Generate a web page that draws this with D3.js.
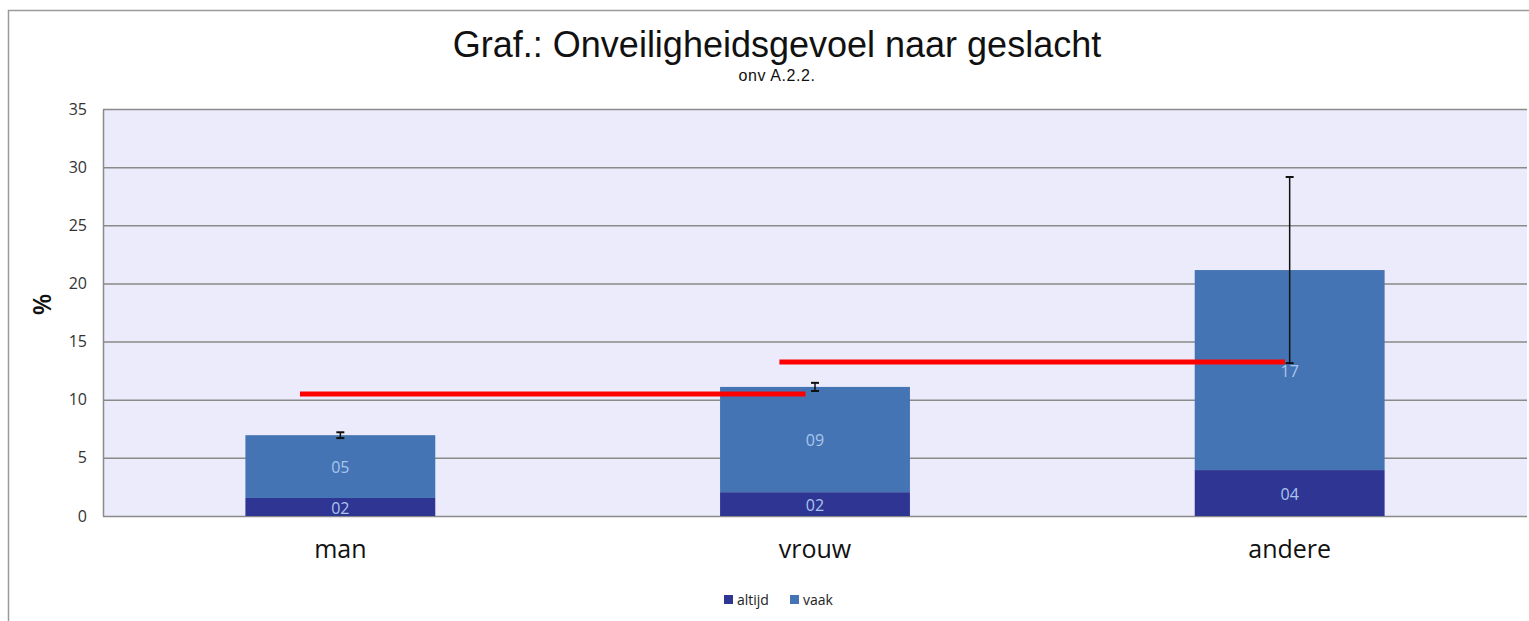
<!DOCTYPE html>
<html>
<head>
<meta charset="utf-8">
<script src="https://cdn.jsdelivr.net/npm/d3@7"></script>
<style>
  body { margin: 0; background: #fff; }
  svg { display: block; }
</style>
</head>
<body>
<div id="chart"></div>
<script>
// data
var categories = ["man", "vrouw", "andere"];
var altijd = [1.55, 2.05, 3.95];
var vaak = [5.4, 9.05, 17.2];
var altijdLabels = ["02", "02", "04"];
var vaakLabels = ["05", "09", "17"];
var errorMargin = [0.25, 0.35, 8.0];
// red reference lines: start/end in category index units, value
var refStart = [-0.085, 0.925];
var refEnd = [0.98, 1.99];
var refValue = [10.5, 13.25];
var yTicks = [0, 5, 10, 15, 20, 25, 30, 35];

var svgWidth = 1529;
var svgHeight = 621;

var margin = { top: 109, right: 2, bottom: 105, left: 103 };
var width = svgWidth - margin.left - margin.right;
var height = svgHeight - margin.top - margin.bottom;

var svg = d3.select("#chart")
    .append("svg")
    .attr("width", svgWidth)
    .attr("height", svgHeight);

// outer frame
svg.append("rect")
    .attr("x", 8.5)
    .attr("y", 10.5)
    .attr("width", svgWidth + 20)
    .attr("height", svgHeight + 20)
    .attr("fill", "none")
    .attr("stroke", "#9a9a9a")
    .attr("stroke-width", 1.5);

svg.append("text")
    .attr("x", 777)
    .attr("y", 57)
    .attr("text-anchor", "middle")
    .style("font-family", "Liberation Sans, Arial, sans-serif")
    .style("font-size", "36px")
    .style("fill", "#111")
    .text("Graf.: Onveiligheidsgevoel naar geslacht");

svg.append("text")
    .attr("x", 777)
    .attr("y", 81)
    .attr("text-anchor", "middle")
    .style("font-family", "Liberation Sans, Arial, sans-serif")
    .style("font-size", "16px")
    .style("letter-spacing", "0.6px")
    .style("fill", "#111")
    .text("onv A.2.2.");

var chartGroup = svg.append("g")
    .attr("transform", `translate(${margin.left}, ${margin.top})`);

var xBandScale = d3.scaleBand()
    .domain(categories)
    .range([0, width])
    .paddingInner(0.6)
    .paddingOuter(0.3);

var step = width / categories.length;
var xIndexScale = d3.scaleLinear()
    .domain([0, categories.length - 1])
    .range([step / 2, width - step / 2]);

var yLinearScale = d3.scaleLinear()
    .domain([0, 35])
    .range([height, 0]);

chartGroup.append("rect")
    .attr("width", width)
    .attr("height", height)
    .attr("fill", "#ebebfb");

// gridlines
chartGroup.append("g")
    .call(d3.axisLeft(yLinearScale).tickValues(yTicks).tickSize(-width).tickFormat(""))
    .call(g => g.select(".domain").remove())
    .call(g => g.selectAll("line").attr("stroke", "#8a8a8a").attr("stroke-width", 1.5));

var leftAxis = d3.axisLeft(yLinearScale).tickValues(yTicks).tickSize(0).tickPadding(16);
chartGroup.append("g")
    .call(leftAxis)
    .call(g => g.select(".domain").attr("stroke", "#8a8a8a").attr("stroke-width", 1.5))
    .call(g => g.selectAll("text")
        .style("font-family", "Open Sans, sans-serif")
        .style("font-size", "16px")
        .style("fill", "#333"));

var bottomAxis = d3.axisBottom(xBandScale).tickSize(0).tickPadding(24);
chartGroup.append("g")
    .attr("transform", `translate(0, ${height})`)
    .call(bottomAxis)
    .call(g => g.select(".domain").remove())
    .call(g => g.selectAll("text")
        .style("font-family", "Open Sans, sans-serif")
        .style("font-size", "25px")
        .style("fill", "#111"));

chartGroup.append("text")
    .attr("transform", "rotate(-90)")
    .attr("x", -(height / 2) + 8)
    .attr("y", -52)
    .attr("text-anchor", "middle")
    .style("font-family", "Open Sans, sans-serif")
    .style("font-size", "25px")
    .style("font-weight", "600")
    .style("fill", "#111")
    .text("%");

// stacked bars
var rows = categories.map((c, i) => ({
    cat: c, altijd: altijd[i], vaak: vaak[i],
    la: altijdLabels[i], lv: vaakLabels[i], err: errorMargin[i]
}));

chartGroup.selectAll(".bar-altijd")
    .data(rows)
    .enter()
    .append("rect")
    .attr("x", d => xBandScale(d.cat))
    .attr("width", xBandScale.bandwidth())
    .attr("y", d => yLinearScale(d.altijd))
    .attr("height", d => height - yLinearScale(d.altijd))
    .attr("fill", "#2f3592");

chartGroup.selectAll(".bar-vaak")
    .data(rows)
    .enter()
    .append("rect")
    .attr("x", d => xBandScale(d.cat))
    .attr("width", xBandScale.bandwidth())
    .attr("y", d => yLinearScale(d.altijd + d.vaak))
    .attr("height", d => yLinearScale(d.altijd) - yLinearScale(d.altijd + d.vaak))
    .attr("fill", "#4474b3");

var labelStyle = function (sel) {
    sel.attr("text-anchor", "middle")
        .attr("dy", "0.35em")
        .style("font-family", "Open Sans, sans-serif")
        .style("font-size", "16px")
        .style("fill", "#a9c6ee");
};

chartGroup.selectAll(".lab-altijd")
    .data(rows)
    .enter()
    .append("text")
    .attr("x", d => xBandScale(d.cat) + xBandScale.bandwidth() / 2)
    .attr("y", d => (yLinearScale(d.altijd) + height) / 2 + 1)
    .call(labelStyle)
    .text(d => d.la);

chartGroup.selectAll(".lab-vaak")
    .data(rows)
    .enter()
    .append("text")
    .attr("x", d => xBandScale(d.cat) + xBandScale.bandwidth() / 2)
    .attr("y", d => (yLinearScale(d.altijd) + yLinearScale(d.altijd + d.vaak)) / 2 + 1)
    .call(labelStyle)
    .text(d => d.lv);

// red lines
var refs = refValue.map((v, i) => ({ x0: refStart[i], x1: refEnd[i], v: v }));
chartGroup.selectAll(".ref")
    .data(refs)
    .enter()
    .append("line")
    .attr("x1", d => xIndexScale(d.x0))
    .attr("x2", d => xIndexScale(d.x1))
    .attr("y1", d => yLinearScale(d.v))
    .attr("y2", d => yLinearScale(d.v))
    .attr("stroke", "#ff0000")
    .attr("stroke-width", 5);

// error bars
var errGroup = chartGroup.selectAll(".err")
    .data(rows)
    .enter()
    .append("g")
    .attr("transform", d => `translate(${xBandScale(d.cat) + xBandScale.bandwidth() / 2}, 0)`);

errGroup.append("line")
    .attr("y1", d => yLinearScale(d.altijd + d.vaak + d.err))
    .attr("y2", d => yLinearScale(d.altijd + d.vaak - d.err))
    .attr("stroke", "#111")
    .attr("stroke-width", 1.5);

errGroup.append("line")
    .attr("x1", -4).attr("x2", 4)
    .attr("y1", d => yLinearScale(d.altijd + d.vaak + d.err))
    .attr("y2", d => yLinearScale(d.altijd + d.vaak + d.err))
    .attr("stroke", "#111")
    .attr("stroke-width", 2);

errGroup.append("line")
    .attr("x1", -4).attr("x2", 4)
    .attr("y1", d => yLinearScale(d.altijd + d.vaak - d.err))
    .attr("y2", d => yLinearScale(d.altijd + d.vaak - d.err))
    .attr("stroke", "#111")
    .attr("stroke-width", 2);

// legend
var legendItems = [
    { name: "altijd", color: "#2f3592" },
    { name: "vaak", color: "#4474b3" }
];
var legend = svg.append("g")
    .attr("transform", "translate(724, 600)");

var lx = [0, 66];
legend.selectAll("rect")
    .data(legendItems)
    .enter()
    .append("rect")
    .attr("x", (d, i) => lx[i])
    .attr("y", -5)
    .attr("width", 9)
    .attr("height", 9)
    .attr("fill", d => d.color);

legend.selectAll("text")
    .data(legendItems)
    .enter()
    .append("text")
    .attr("x", (d, i) => lx[i] + 13)
    .attr("y", 0)
    .attr("dy", "0.35em")
    .style("font-family", "Open Sans, sans-serif")
    .style("font-size", "14px")
    .style("fill", "#222")
    .text(d => d.name);
</script>
</body>
</html>
